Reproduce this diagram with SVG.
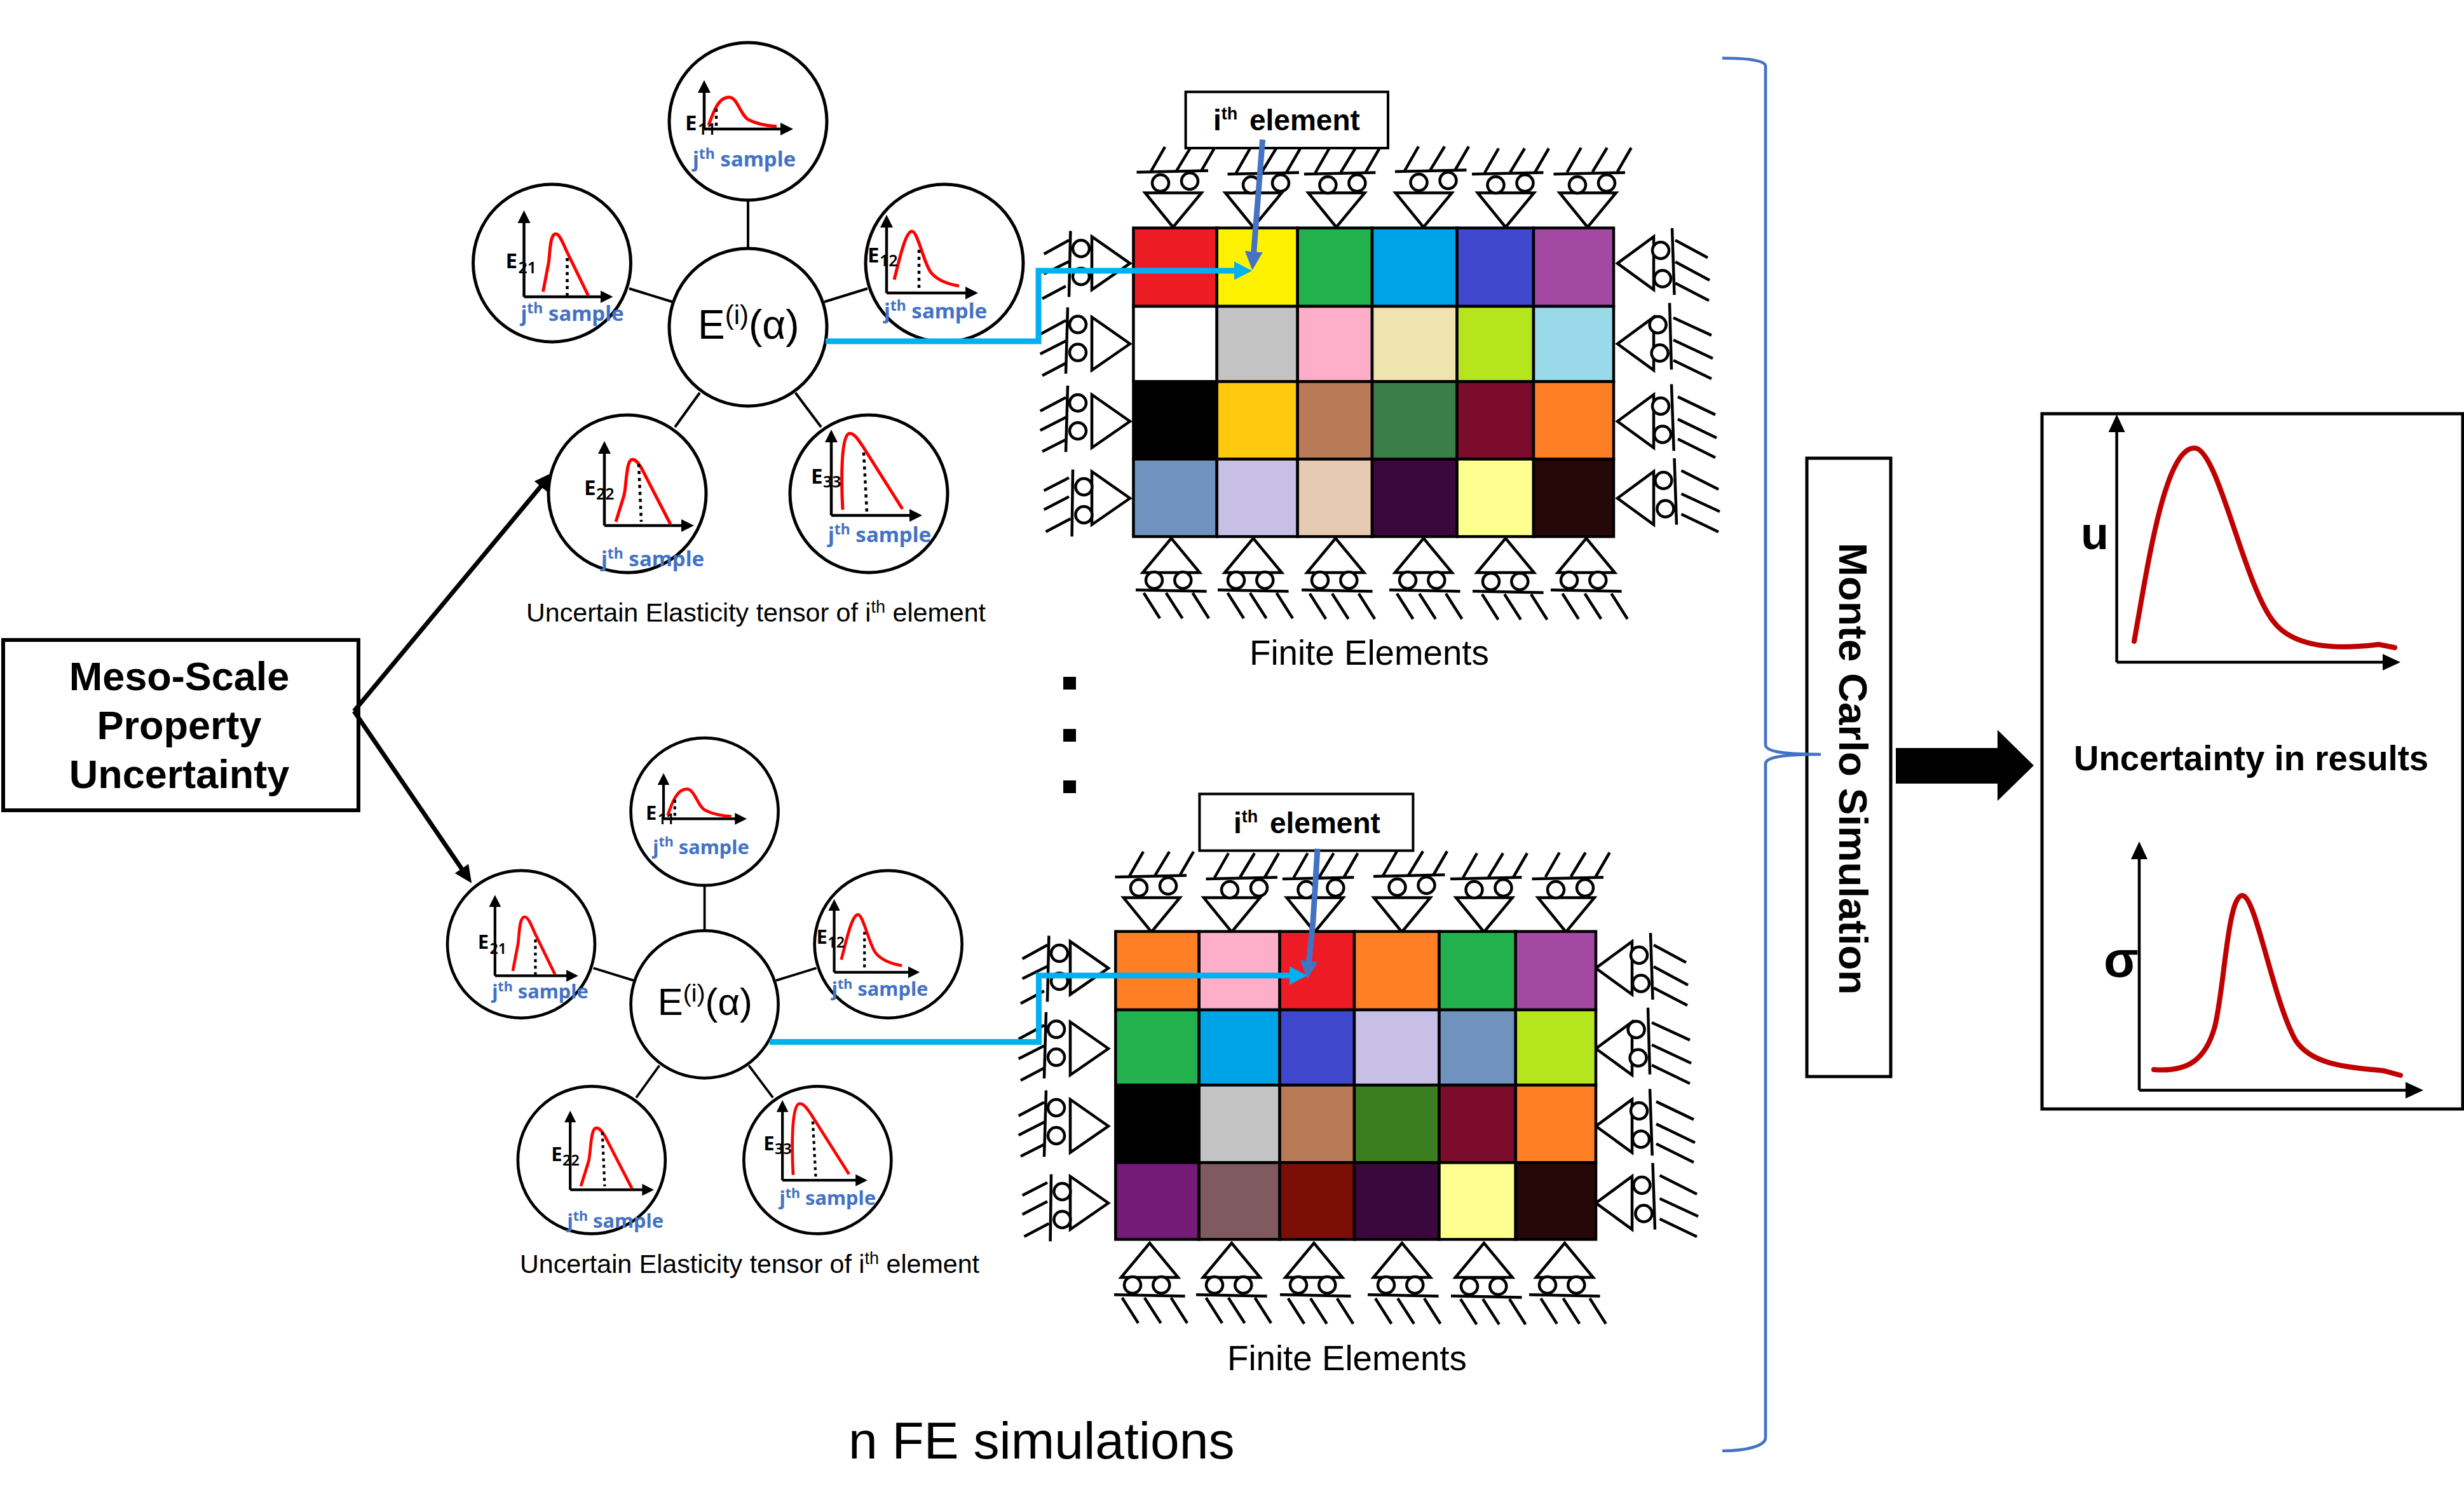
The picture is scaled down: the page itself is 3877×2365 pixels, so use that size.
<svg xmlns="http://www.w3.org/2000/svg" width="3877" height="2365" viewBox="0 0 3877 2365">
<style>
text{font-family:"Liberation Sans",Arial,sans-serif;fill:#000}
.b{font-weight:bold}
.c{fill:#fff;stroke:#000;stroke-width:5}
.ax{fill:none;stroke:#000;stroke-width:4.5;marker-end:url(#ma)}
.cv{fill:none;stroke:#f00;stroke-width:5}
.dt{fill:none;stroke:#000;stroke-width:4.5;stroke-dasharray:5 6}
.E{font-family:"Noto Sans",sans-serif;font-weight:bold;font-size:33px}
.s{font-family:"Noto Sans",sans-serif;font-weight:600;font-size:25px}
.j{font-family:"Noto Sans",sans-serif;font-weight:bold;font-size:33px;fill:#4472C4}
.j tspan.u{font-size:23px}
.hub{font-size:64px}
.cap{font-size:41.200px}
.fe{font-size:54.700px}
.sl{fill:#fff;stroke:#000;stroke-width:4.5}
.sp{fill:none;stroke:#000;stroke-width:4.5}
.grid rect{stroke:#000;stroke-width:4.5}
.box{fill:#fff;stroke:#000;stroke-width:4}
.spoke{stroke:#000;stroke-width:4;fill:none}
.cy{fill:none;stroke:#00B0F0;stroke-width:9;marker-end:url(#mc)}
.bl{fill:none;stroke:#4472C4;stroke-width:9;marker-end:url(#mb)}
.bk{fill:none;stroke:#000;stroke-width:7;marker-end:url(#mk)}
.pa{fill:none;stroke:#000;stroke-width:4.5}
.rc{fill:none;stroke:#C00000;stroke-width:8;stroke-linecap:round}
</style>
<defs>
<marker id="ma" markerUnits="userSpaceOnUse" markerWidth="24" markerHeight="24" refX="1" refY="12" orient="auto"><path d="M0,2L20,12L0,22Z" fill="#000"/></marker>
<marker id="mc" markerUnits="userSpaceOnUse" markerWidth="32" markerHeight="34" refX="2" refY="17" orient="auto"><path d="M0,2.500L28,17L0,31.500Z" fill="#00B0F0"/></marker>
<marker id="mb" markerUnits="userSpaceOnUse" markerWidth="32" markerHeight="32" refX="2" refY="16" orient="auto"><path d="M0,2L29,16L0,30Z" fill="#4472C4"/></marker>
<marker id="mk" markerUnits="userSpaceOnUse" markerWidth="32" markerHeight="32" refX="2" refY="16" orient="auto"><path d="M0,3L28,16L0,29Z" fill="#000"/></marker>
<marker id="mr" markerUnits="userSpaceOnUse" markerWidth="34" markerHeight="34" refX="1" refY="17" orient="auto"><path d="M0,4L28,17L0,30Z" fill="#000"/></marker>
<g id="p11"><path class="ax" d="M-69,12V-46"/><path class="ax" d="M-69,12H52"/><path class="cv" d="M-62,6C-56,-10 -48,-38 -30,-38C-16,-38 -12,-8 2,-2C14,4 30,7 45,8"/><path class="dt" d="M-50,-20V9"/></g>
<g id="p21"><path class="ax" d="M-44,53V-64"/><path class="ax" d="M-44,53H77"/><path class="cv" d="M-14,45L-5,-2C-3,-20 -3,-46 6,-46C12,-46 18,-30 22,-21L57,51"/><path class="dt" d="M24,-8V51"/></g>
<g id="p12"><path class="ax" d="M-91,47V-57"/><path class="ax" d="M-91,47H34"/><path class="cv" d="M-79,26C-72,0 -62,-50 -51,-50C-42,-50 -32,2 -21,15C-12,26 5,33 23,36"/><path class="dt" d="M-40,-21V43"/></g>
<g id="p22"><path class="ax" d="M-36,50V-64"/><path class="ax" d="M-36,50H86"/><path class="cv" d="M-18,44L-5,2C-1,-15 -2,-54 8,-54C14,-54 18,-47 22,-41L68,48"/><path class="dt" d="M18,-47L22,44"/></g>
<g id="p33"><path class="ax" d="M-59,34V-82"/><path class="ax" d="M-59,34H65"/><path class="cv" d="M-41,25C-43,-10 -45,-95 -30,-95C-22,-95 -15,-83 -9,-74L53,24"/><path class="dt" d="M-8,-65L-3,29"/></g>
<path id="tt" class="sl" d="M0,0L-44,-54H44.700Z"/>
<g id="rt"><circle class="sl" r="13"/><circle class="sl" cx="46" cy="-3" r="13"/><path class="sp" d="M-37.500,-17L75,-19.500"/></g>
<path id="ht" class="sp" d="M0,0L22,-38.500M40,-.5L63,-38.500M79,-.5L101,-38.500"/>
<path id="tb" class="sl" d="M0,0L-45,54H44.700Z"/>
<g id="rb"><circle class="sl" r="13"/><circle class="sl" cx="45.300" r="13"/><path class="sp" d="M-29,15.200L82.600,17.500"/></g>
<path id="hb" class="sp" d="M0,0L25.400,40M35.200,0L60.900,40M77,0L102.400,40"/>
<path id="tr" class="sl" d="M0,0L57,-42V41.500Z"/>
<g id="rr"><circle class="sl" r="13"/><circle class="sl" cx="3" cy="44.500" r="13"/></g>
<path id="tl" class="sl" d="M0,0L-60,-42V41.500Z"/>
<g id="rl"><circle class="sl" r="13"/><circle class="sl" cy="44" r="13"/></g>
<g id="supports">
<use href="#tt" x="1845.800" y="357.500"/><use href="#tt" x="1972" y="357.500"/><use href="#tt" x="2102.600" y="357.500"/><use href="#tt" x="2239.800" y="357.500"/><use href="#tt" x="2369" y="357.500"/><use href="#tt" x="2498" y="357.500"/>
<use href="#rt" x="1826" y="288"/><use href="#rt" x="1969" y="291"/><use href="#rt" x="2089.400" y="291"/><use href="#rt" x="2232.500" y="287"/><use href="#rt" x="2353.500" y="291"/><use href="#rt" x="2482" y="291"/>
<use href="#ht" x="1811" y="269.600"/><use href="#ht" x="1945" y="272"/><use href="#ht" x="2069.500" y="272"/><use href="#ht" x="2210" y="269"/><use href="#ht" x="2336" y="272"/><use href="#ht" x="2465.700" y="271"/>
<use href="#tb" x="1843" y="847"/><use href="#tb" x="1972" y="847"/><use href="#tb" x="2101.500" y="847"/><use href="#tb" x="2240" y="847"/><use href="#tb" x="2369" y="847"/><use href="#tb" x="2496" y="847"/>
<use href="#rb" x="1816" y="913"/><use href="#rb" x="1945" y="913"/><use href="#rb" x="2077" y="913"/><use href="#rb" x="2215" y="913"/><use href="#rb" x="2346" y="915"/><use href="#rb" x="2469" y="913"/>
<use href="#hb" x="1799.600" y="933"/><use href="#hb" x="1931.600" y="933"/><use href="#hb" x="2060.800" y="934"/><use href="#hb" x="2198" y="934"/><use href="#hb" x="2332" y="935"/><use href="#hb" x="2458.400" y="934"/>
<use href="#tr" x="2545" y="414.400"/><use href="#tr" x="2545" y="541"/><use href="#tr" x="2545" y="663"/><use href="#tr" x="2545" y="784"/>
<use href="#rr" x="2613" y="394"/><use href="#rr" x="2608.600" y="511"/><use href="#rr" x="2613" y="639"/><use href="#rr" x="2617.400" y="756"/>
<path class="sp" d="M2631,359L2634.500,464M2636,378L2687,405.600M2636,412L2690,441M2636,445.500L2689,473M2627,476.600L2630,581.600M2633,500L2693,527.600M2633,535L2695,564M2633,567L2693,596M2630,604.500L2633.700,709.400M2640,624.400L2699,652.600M2640,659.600L2701,689M2640,690.700L2699,720M2634.500,721L2638,825.600M2645.500,740.500L2704,770M2645.500,777L2706,805M2645.500,809L2704,837"/>
<use href="#tl" x="1778" y="414.400"/><use href="#tl" x="1778" y="541"/><use href="#tl" x="1778" y="663"/><use href="#tl" x="1778" y="784"/>
<use href="#rl" x="1701" y="391"/><use href="#rl" x="1696" y="510.600"/><use href="#rl" x="1696" y="634"/><use href="#rl" x="1705.400" y="766"/>
<path class="sp" d="M1684.400,363.400L1682,467.200M1642.600,399.800L1682,378M1642.600,431L1682,411.500M1640,470L1677,450.200M1680,483.600L1677,588M1636.700,525.900L1677,504.200M1636.700,557L1677,536.400M1640,591L1677,571.600M1680,606.800L1677,711.200M1636.700,646.700L1677,625.600M1636.700,677.200L1677,656.700M1640,710.600L1677,691.800M1688,738.800L1686.600,844.300M1642.600,772L1682,751.700M1642.600,802L1682,781.600M1645.500,836.700L1684.400,816.200"/>
</g>
</defs>
<rect width="3877" height="2365" fill="#fff"/>

<g id="meso-box"><rect x="5" y="1007" width="559" height="268" fill="#fff" stroke="#000" stroke-width="6"/>
<text class="b" font-size="63" text-anchor="middle" x="282" y="1086">Meso-Scale</text>
<text class="b" font-size="63" text-anchor="middle" x="282" y="1163">Property</text>
<text class="b" font-size="63" text-anchor="middle" x="282" y="1240">Uncertainty</text></g>

<g id="spokes-1" class="spoke" transform="translate(1177,515)"><path d="M0,-200V-124M-187,-61L-119,-40M120,-40L188,-61M-76,103L-115,157M74.500,103L115,157"/></g>
<g id="spokes-2" class="spoke" transform="translate(1108.600,1580.300) scale(.9355)"><path d="M0,-200V-124M-187,-61L-119,-40M120,-40L188,-61M-76,103L-115,157M74.500,103L115,157"/></g>

<g id="hub1" transform="translate(1177,515)">
<g id="h1-center"><circle class="c" r="124"/><text class="hub" x="-79" y="18">E<tspan font-size="42" dy="-23">(i)</tspan><tspan dy="23">(α)</tspan></text></g>
<g id="h1-e11" transform="translate(0,-324)"><circle class="c" r="124"/><use href="#p11"/><text class="E" x="-99" y="14">E</text><text class="s" x="-79" y="21">11</text><text class="j" x="-87" y="71">j<tspan class="u" dy="-12">th</tspan><tspan dy="12"> sample</tspan></text></g>
<g id="h1-e21" transform="translate(-308.500,-101)"><circle class="c" r="124"/><use href="#p21"/><text class="E" x="-73" y="8">E</text><text class="s" x="-53" y="16">21</text><text class="j" x="-49" y="91">j<tspan class="u" dy="-12">th</tspan><tspan dy="12"> sample</tspan></text></g>
<g id="h1-e12" transform="translate(309,-101)"><circle class="c" r="124"/><use href="#p12"/><text class="E" x="-121" y="-1">E</text><text class="s" x="-102" y="5">12</text><text class="j" x="-95" y="87">j<tspan class="u" dy="-12">th</tspan><tspan dy="12"> sample</tspan></text></g>
<g id="h1-e22" transform="translate(-190,262)"><circle class="c" r="124"/><use href="#p22"/><text class="E" x="-68" y="2">E</text><text class="s" x="-49" y="9">22</text><text class="j" x="-41" y="114">j<tspan class="u" dy="-12">th</tspan><tspan dy="12"> sample</tspan></text></g>
<g id="h1-e33" transform="translate(190,262)"><circle class="c" r="124"/><use href="#p33"/><text class="E" x="-91" y="-16">E</text><text class="s" x="-72" y="-10">33</text><text class="j" x="-64" y="76">j<tspan class="u" dy="-12">th</tspan><tspan dy="12"> sample</tspan></text></g>
</g>
<text id="cap1" class="cap" x="828" y="978">Uncertain Elasticity tensor of i<tspan font-size="27" dy="-14">th</tspan><tspan dy="14"> element</tspan></text>

<g id="hub2" transform="translate(1108.600,1580.300) scale(.9355)">
<g id="h2-center"><circle class="c" r="124"/><text class="hub" x="-79" y="18">E<tspan font-size="42" dy="-23">(i)</tspan><tspan dy="23">(α)</tspan></text></g>
<g id="h2-e11" transform="translate(0,-324)"><circle class="c" r="124"/><use href="#p11"/><text class="E" x="-99" y="14">E</text><text class="s" x="-79" y="21">11</text><text class="j" x="-87" y="71">j<tspan class="u" dy="-12">th</tspan><tspan dy="12"> sample</tspan></text></g>
<g id="h2-e21" transform="translate(-308.500,-101)"><circle class="c" r="124"/><use href="#p21"/><text class="E" x="-73" y="8">E</text><text class="s" x="-53" y="16">21</text><text class="j" x="-49" y="91">j<tspan class="u" dy="-12">th</tspan><tspan dy="12"> sample</tspan></text></g>
<g id="h2-e12" transform="translate(309,-101)"><circle class="c" r="124"/><use href="#p12"/><text class="E" x="-121" y="-1">E</text><text class="s" x="-102" y="5">12</text><text class="j" x="-95" y="87">j<tspan class="u" dy="-12">th</tspan><tspan dy="12"> sample</tspan></text></g>
<g id="h2-e22" transform="translate(-190,262)"><circle class="c" r="124"/><use href="#p22"/><text class="E" x="-68" y="2">E</text><text class="s" x="-49" y="9">22</text><text class="j" x="-41" y="114">j<tspan class="u" dy="-12">th</tspan><tspan dy="12"> sample</tspan></text></g>
<g id="h2-e33" transform="translate(190,262)"><circle class="c" r="124"/><use href="#p33"/><text class="E" x="-91" y="-16">E</text><text class="s" x="-72" y="-10">33</text><text class="j" x="-64" y="76">j<tspan class="u" dy="-12">th</tspan><tspan dy="12"> sample</tspan></text></g>
</g>
<text id="cap2" class="cap" x="818" y="2003">Uncertain Elasticity tensor of i<tspan font-size="27" dy="-14">th</tspan><tspan dy="14"> element</tspan></text>

<g id="fe1-supports"><use href="#supports"/></g>
<g id="fe1-grid" class="grid">
<rect x="1783.400" y="358.700" width="131.300" height="123.300" fill="#ED1C24"/><rect x="1914.700" y="358.700" width="127" height="123.300" fill="#FFF200"/><rect x="2041.700" y="358.700" width="117.300" height="123.300" fill="#22B14C"/><rect x="2159" y="358.700" width="133.600" height="123.300" fill="#00A2E8"/><rect x="2292.600" y="358.700" width="120.400" height="123.300" fill="#3F48CC"/><rect x="2413" y="358.700" width="126" height="123.300" fill="#A349A4"/>
<rect x="1783.400" y="482" width="131.300" height="118.400" fill="#FFFFFF"/><rect x="1914.700" y="482" width="127" height="118.400" fill="#C3C3C3"/><rect x="2041.700" y="482" width="117.300" height="118.400" fill="#FFAEC9"/><rect x="2159" y="482" width="133.600" height="118.400" fill="#EFE4B0"/><rect x="2292.600" y="482" width="120.400" height="118.400" fill="#B5E61D"/><rect x="2413" y="482" width="126" height="118.400" fill="#99D9EA"/>
<rect x="1783.400" y="600.400" width="131.300" height="122" fill="#000000"/><rect x="1914.700" y="600.400" width="127" height="122" fill="#FFC90E"/><rect x="2041.700" y="600.400" width="117.300" height="122" fill="#B97A57"/><rect x="2159" y="600.400" width="133.600" height="122" fill="#3A7E4A"/><rect x="2292.600" y="600.400" width="120.400" height="122" fill="#7B0C2B"/><rect x="2413" y="600.400" width="126" height="122" fill="#FF7F27"/>
<rect x="1783.400" y="722.400" width="131.300" height="121.900" fill="#7092BE"/><rect x="1914.700" y="722.400" width="127" height="121.900" fill="#C8BFE7"/><rect x="2041.700" y="722.400" width="117.300" height="121.900" fill="#E6CBB2"/><rect x="2159" y="722.400" width="133.600" height="121.900" fill="#3A083C"/><rect x="2292.600" y="722.400" width="120.400" height="121.900" fill="#FFFF90"/><rect x="2413" y="722.400" width="126" height="121.900" fill="#270808"/>
</g>
<g id="fe1-label"><rect class="box" x="1865.600" y="144.600" width="318.400" height="88.400"/><text class="b" font-size="46" x="1909" y="205">i<tspan font-size="27" dy="-17">th</tspan></text><text class="b" font-size="46" x="1966" y="205">element</text></g>
<text id="fe1-cap" class="fe" x="1966" y="1046">Finite Elements</text>

<g id="fe2-supports" transform="translate(-34,1109)"><use href="#supports"/></g>
<g id="fe2-grid" class="grid">
<rect x="1755.300" y="1465.700" width="131.400" height="123.300" fill="#FF7F27"/><rect x="1886.700" y="1465.700" width="126.900" height="123.300" fill="#FFAEC9"/><rect x="2013.600" y="1465.700" width="117.400" height="123.300" fill="#ED1C24"/><rect x="2131" y="1465.700" width="133.500" height="123.300" fill="#FF7F27"/><rect x="2264.500" y="1465.700" width="120.300" height="123.300" fill="#22B14C"/><rect x="2384.800" y="1465.700" width="126.200" height="123.300" fill="#A349A4"/>
<rect x="1755.300" y="1589" width="131.400" height="118.400" fill="#22B14C"/><rect x="1886.700" y="1589" width="126.900" height="118.400" fill="#00A2E8"/><rect x="2013.600" y="1589" width="117.400" height="118.400" fill="#3F48CC"/><rect x="2131" y="1589" width="133.500" height="118.400" fill="#C8BFE7"/><rect x="2264.500" y="1589" width="120.300" height="118.400" fill="#7092BE"/><rect x="2384.800" y="1589" width="126.200" height="118.400" fill="#B5E61D"/>
<rect x="1755.300" y="1707.400" width="131.400" height="122" fill="#000000"/><rect x="1886.700" y="1707.400" width="126.900" height="122" fill="#C3C3C3"/><rect x="2013.600" y="1707.400" width="117.400" height="122" fill="#B97A57"/><rect x="2131" y="1707.400" width="133.500" height="122" fill="#3A7E20"/><rect x="2264.500" y="1707.400" width="120.300" height="122" fill="#7B0C2B"/><rect x="2384.800" y="1707.400" width="126.200" height="122" fill="#FF7F27"/>
<rect x="1755.300" y="1829.400" width="131.400" height="120.800" fill="#741B77"/><rect x="1886.700" y="1829.400" width="126.900" height="120.800" fill="#7F5A5E"/><rect x="2013.600" y="1829.400" width="117.400" height="120.800" fill="#7B0F07"/><rect x="2131" y="1829.400" width="133.500" height="120.800" fill="#3A083C"/><rect x="2264.500" y="1829.400" width="120.300" height="120.800" fill="#FFFF90"/><rect x="2384.800" y="1829.400" width="126.200" height="120.800" fill="#270808"/>
</g>
<g id="fe2-label"><rect class="box" x="1887.400" y="1249.300" width="336" height="89.200"/><text class="b" font-size="46" x="1941" y="1311">i<tspan font-size="27" dy="-17">th</tspan></text><text class="b" font-size="46" x="1998" y="1311">element</text></g>
<text id="fe2-cap" class="fe" x="1931" y="2156">Finite Elements</text>

<g id="dots" fill="#000"><rect x="1673" y="1065" width="20" height="20"/><rect x="1673" y="1147" width="20" height="20"/><rect x="1673" y="1228" width="20" height="20"/></g>
<text id="n-fe" font-size="82.200" x="1335" y="2295">n FE simulations</text>

<g id="mc-box"><rect x="2843" y="721" width="132" height="973" fill="#fff" stroke="#000" stroke-width="5"/><text class="b" font-size="63.700" transform="translate(2894,854) rotate(90)">Monte Carlo Simulation</text></g>

<g id="results">
<rect x="3213" y="651" width="662" height="1094" fill="#fff" stroke="#000" stroke-width="5"/>
<path class="pa" marker-end="url(#mr)" d="M3330.600,1042V679"/><path class="pa" marker-end="url(#mr)" d="M3330.600,1042H3750"/>
<path class="rc" d="M3358,1009C3378,900 3405,704 3453,705C3490,705 3530,920 3578,979C3610,1020 3680,1022 3743,1014L3768,1019"/>
<text class="b" font-size="72" x="3274" y="864">u</text>
<text class="b" font-size="54.600" x="3263" y="1212">Uncertainty in results</text>
<path class="pa" marker-end="url(#mr)" d="M3366,1715.500V1351"/><path class="pa" marker-end="url(#mr)" d="M3366,1715.500H3786"/>
<path class="rc" d="M3389,1683C3440,1687 3470,1670 3485,1615C3500,1555 3505,1410 3528,1409C3550,1410 3575,1570 3612,1637C3640,1680 3710,1680 3751,1685L3777,1692"/>
<text class="b" font-size="80" x="3310" y="1537">σ</text>
</g>

<g id="connectors">
<path class="bk" d="M557,1119L852,764"/>
<path class="bk" d="M557,1119L727.500,1368.400"/>
<path class="bl" d="M1986.600,219.700L1972.600,398"/>
<path class="cy" d="M1299,537H1634V426H1944"/>
<path class="bl" d="M2073,1335.500L2066,1450L2059.500,1514"/>
<path class="cy" d="M1211,1639.400H1634.500V1535H2031"/>
<path d="M2710,91.500C2750,91.500 2778,95 2778,104V1172C2778,1183 2810,1187 2865,1187C2810,1187 2778,1191 2778,1202V2262C2778,2276 2745,2283 2710,2283" fill="none" stroke="#4472C4" stroke-width="4.700"/>
<path d="M2983,1177H3143V1148.600L3200,1204.400L3143,1260.300V1233H2983Z" fill="#000"/>
</g>
</svg>
